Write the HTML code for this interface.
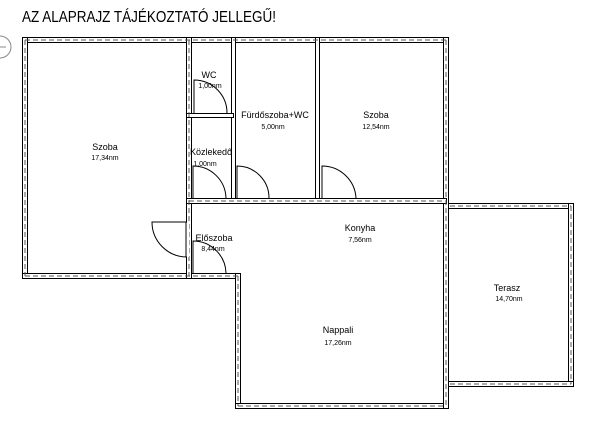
<!DOCTYPE html>
<html><head><meta charset="utf-8"><style>
html,body{margin:0;padding:0;background:#fff;}
svg{display:block;}
text{font-family:"Liberation Sans",sans-serif;fill:#000;}
</style></head><body>
<svg width="600" height="429" viewBox="0 0 600 429" xmlns="http://www.w3.org/2000/svg">
<text x="22" y="22" font-size="15.5" textLength="254" lengthAdjust="spacingAndGlyphs">AZ ALAPRAJZ TÁJÉKOZTATÓ JELLEGŰ!</text>
<path d="M0,36 A11,11 0 0 1 0,58" fill="none" stroke="#888" stroke-width="1"/>
<line x1="0" y1="47" x2="6" y2="47" stroke="#888"/>
<g fill="#fff" stroke="#000" stroke-width="1">
<rect x="22.5" y="37.5" width="426" height="5"/>
<rect x="22.5" y="37.5" width="5" height="241"/>
<rect x="22.5" y="273.5" width="218" height="5"/>
<rect x="235.5" y="273.5" width="5" height="135"/>
<rect x="235.5" y="403.5" width="213" height="5"/>
<rect x="443.5" y="37.5" width="5" height="371"/>
<rect x="448.5" y="203.5" width="125" height="5"/>
<rect x="568.5" y="203.5" width="5" height="183"/>
<rect x="448.5" y="381.5" width="125" height="5"/>
<rect x="186.5" y="37.5" width="5" height="241"/>
<rect x="231.5" y="37.5" width="4" height="165"/>
<rect x="315.5" y="37.5" width="4" height="165"/>
<rect x="186.5" y="198.5" width="260" height="5"/>
<rect x="186.5" y="113.5" width="47" height="4"/>
</g>
<g stroke="#555" stroke-width="1" stroke-dasharray="5,3" fill="none">
<line x1="25" y1="40" x2="446" y2="40"/>
<line x1="25" y1="40" x2="25" y2="276"/>
<line x1="25" y1="276" x2="238" y2="276"/>
<line x1="238" y1="276" x2="238" y2="406"/>
<line x1="238" y1="406" x2="446" y2="406"/>
<line x1="446" y1="40" x2="446" y2="406"/>
<line x1="450" y1="206" x2="571" y2="206"/>
<line x1="571" y1="206" x2="571" y2="384"/>
<line x1="450" y1="384" x2="571" y2="384"/>
<line x1="189" y1="40" x2="189" y2="276"/>
<line x1="189" y1="201" x2="444" y2="201"/>
</g>
<rect x="184" y="222" width="5" height="35" fill="#fff"/>
<g fill="none" stroke="#000" stroke-width="1">
<path d="M194,113 L194,80 A33,33 0 0 1 227,113"/>
<path d="M193,198 L193,166 A33,33 0 0 1 226,198"/>
<path d="M237,198 L237,166 A32,32 0 0 1 269,198"/>
<path d="M322,198 L322,166 A34,34 0 0 1 356,198"/>
<path d="M187,222 L152,222 A35,35 0 0 0 187,257"/>
<line x1="186" y1="222" x2="186" y2="257"/>
<path d="M193,273 L193,241 A33,33 0 0 1 226,273"/>
</g>
<g text-anchor="middle">
<text x="105" y="150" font-size="9">Szoba</text>
<text x="105" y="160" font-size="7">17,34nm</text>
<text x="209" y="78" font-size="9">WC</text>
<text x="210" y="88" font-size="7">1,00nm</text>
<text x="211" y="155" font-size="9">Közlekedő</text>
<text x="205" y="166" font-size="7">1,00nm</text>
<text x="275" y="118" font-size="9">Fürdőszoba+WC</text>
<text x="273" y="129" font-size="7">5,00nm</text>
<text x="376" y="118" font-size="9">Szoba</text>
<text x="376" y="129" font-size="7">12,54nm</text>
<text x="214" y="241" font-size="9">Előszoba</text>
<text x="213" y="251" font-size="7">8,44nm</text>
<text x="360" y="231" font-size="9">Konyha</text>
<text x="360" y="242" font-size="7">7,56nm</text>
<text x="338" y="333" font-size="9">Nappali</text>
<text x="338" y="345" font-size="7">17,26nm</text>
<text x="507" y="291" font-size="9">Terasz</text>
<text x="509" y="301" font-size="7">14,70nm</text>
</g>
</svg>
</body></html>
